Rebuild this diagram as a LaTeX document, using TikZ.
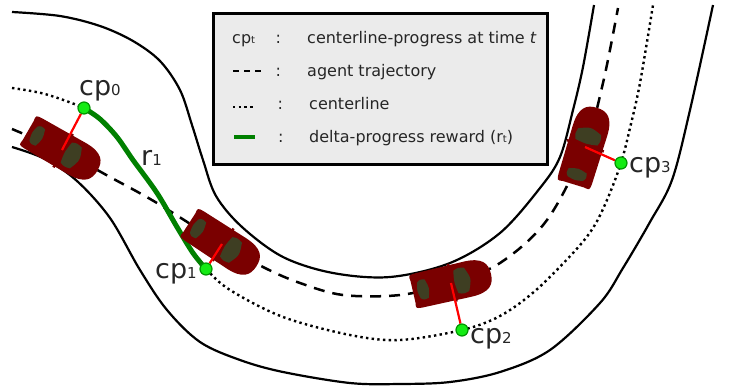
\documentclass[tikz,border=0pt]{standalone}
\usepackage{fontspec}
\setmainfont{DejaVu Sans}
\pgfdeclarelayer{front}
\pgfdeclarelayer{legendlayer}
\pgfsetlayers{main,front,legendlayer}

\definecolor{carred}{RGB}{122,0,0}
\definecolor{glass}{RGB}{62,62,34}
\definecolor{rewardgreen}{RGB}{0,128,0}
\definecolor{dotfill}{RGB}{20,235,20}
\definecolor{dotedge}{RGB}{0,150,0}
\definecolor{legendfill}{RGB}{235,235,235}

\newcommand{\cpsub}[1]{{\fontsize{15}{15}\selectfont #1}}
\newcommand{\lgsub}[1]{{\fontsize{10}{10}\selectfont #1}}

\tikzset{
  trackedge/.style={line width=2.2pt, black},
  centerline/.style={line width=2.4pt, black, dash pattern=on 2.4pt off 3.3pt},
  trajectory/.style={line width=2.5pt, black, dash pattern=on 11pt off 8pt},
  reward/.style={line width=5pt, rewardgreen, line cap=round},
  redlink/.style={line width=2.2pt, red},
  cpdot/.style={circle, fill=dotfill, draw=dotedge, line width=1.2pt,
    minimum size=12pt, inner sep=0pt},
  cplabel/.style={inner sep=0pt, anchor=base west, font=\fontsize{27}{27}\selectfont,
    text=black!85},
  lgtext/.style={inner sep=0pt, anchor=base west, font=\fontsize{16}{16}\selectfont,
    text=black!85},
  legendbox/.style={draw=black, line width=3.6pt, fill=legendfill,
    minimum width=334pt, minimum height=151pt, inner sep=0pt},
  car/.pic={
    % body, nose pointing along +x
    \fill[carred] (-39,-11) .. controls (-40,-17) .. (-33,-17.5)
      -- (17,-18) .. controls (36,-18) and (41,-11) .. (41,0)
      .. controls (41,11) and (36,18) .. (17,18)
      -- (-33,17.5) .. controls (-40,17) .. (-39,11) -- cycle;
    % side mirrors
    \fill[carred] (0,-17) rectangle (2.5,-19.3);
    \fill[carred] (0,17) rectangle (2.5,19.3);
    % rear window
    \fill[glass] (-33,-8) .. controls (-35,0) .. (-33,8)
      .. controls (-30,10.5) .. (-25,9.5) .. controls (-22,0) .. (-25,-9.5)
      .. controls (-30,-10.5) .. (-33,-8) -- cycle;
    % windshield
    \fill[glass] (5,-11.5) .. controls (3,0) .. (5,11.5)
      .. controls (10,13.5) .. (16,12) .. controls (21,0) .. (16,-12)
      .. controls (10,-13.5) .. (5,-11.5) -- cycle;
  }
}

\begin{document}
\begin{tikzpicture}[x=1pt, y=-1pt]
\useasboundingbox (0,0) rectangle (740,389);

% centerline-progress points
\begin{pgfonlayer}{front}
  \node[cpdot] (cp0) at (84,108) {};
  \node[cpdot] (cp1) at (206,269) {};
  \node[cpdot] (cp2) at (462,330) {};
  \node[cpdot] (cp3) at (621,163) {};
  \node[cplabel] (l0) at (79,95) {cp\cpsub{0}};
  \node[cplabel] (l1) at (155,278) {cp\cpsub{1}};
  \node[cplabel] (l2) at (470,343) {cp\cpsub{2}};
  \node[cplabel] (l3) at (629,172) {cp\cpsub{3}};
  \node[cplabel] (r1) at (141,165) {r\cpsub{1}};
\end{pgfonlayer}

% track boundaries
\draw[trackedge] plot[smooth, tension=0.55] coordinates {
  (12,12) (60,16) (100,26) (133,41) (160,61) (180,90) (192,125) (203,160)
  (216,196) (242,227) (283,257) (333,273) (390,277) (450,263) (500,233)
  (540,188) (560,157) (573,110) (583,67) (594,5)};
\draw[trackedge] plot[smooth, tension=0.55] coordinates {
  (12,147) (45,159) (77,181) (110,218) (140,270) (167,310) (200,342)
  (240,360) (283,372) (350,383) (400,384) (450,382) (500,372) (550,350)
  (600,303) (623,268) (650,222) (672,180) (690,110) (713,5)};

% centerline
\draw[centerline] plot[smooth, tension=0.55] coordinates {
  (12,88) (45,94) (cp0.center) (100,119) (117,137) (133,160) (157,193)
  (177,227) (193,253) (cp1.center) (230,290) (283,317) (350,335) (400,340)
  (cp2.center) (500,316) (535,291) (573,253) (593,228) (607,200)
  (cp3.center) (630,128) (640,83) (653,5)};

% agent trajectory
\draw[trajectory] plot[smooth, tension=0.55] coordinates {
  (12,129) (62,151) (110,177) (157,203) (222,244) (265,268) (300,283)
  (343,295) (400,295) (451,283) (500,263) (547,220) (585,147) (603,83)
  (618,8)};

% delta-progress reward between cp0 and cp1
\draw[reward] plot[smooth, tension=0.55] coordinates {
  (cp0.center) (100,119) (117,137) (133,160) (157,193) (177,227) (193,253)
  (cp1.center)};

% cars (rotation is measured on the page, counter-clockwise)
\coordinate (car0) at (62,150);
\coordinate (car1) at (222,244);
\coordinate (car2) at (451,283);
\coordinate (car3) at (585,147);
\pic[rotate=-30] at (car0) {car};
\pic[rotate=-33] at (car1) {car};
\pic[rotate=13] at (car2) {car};
\pic[rotate=73] at (car3) {car};

% projections onto the centerline
\draw[redlink] (car0) -- (cp0);
\draw[redlink] (car1) -- (cp1);
\draw[redlink] (car2) -- (cp2);
\draw[redlink] (car3) -- (cp3);

% legend
\begin{pgfonlayer}{legendlayer}
  \node[legendbox, anchor=north west] (legend) at (211.8,11.8) {};
  \node[lgtext] (k1) at (232,43) {cp\lgsub{t}};
  \node[lgtext] (s1) at (275.5,43) {:};
  \node[lgtext] (t1) at (307,43) {centerline-progress at time \textit{t}};
  \draw[black, line width=2.5pt, dash pattern=on 6pt off 5pt] (233,71) -- (263,71);
  \node[lgtext] (s2) at (275.5,76) {:};
  \node[lgtext] (t2) at (307,76) {agent trajectory};
  \draw[black, line width=2.4pt, dash pattern=on 2.4pt off 3.3pt] (233,107) -- (255,107);
  \node[lgtext] (s3) at (277.5,109) {:};
  \node[lgtext] (t3) at (309,109) {centerline};
  \draw[rewardgreen, line width=4.5pt] (234,137) -- (255,137);
  \node[lgtext] (s4) at (278,142) {:};
  \node[lgtext] (t4) at (309,142) {delta-progress reward (r\lgsub{t})};
\end{pgfonlayer}
\end{tikzpicture}
\end{document}
